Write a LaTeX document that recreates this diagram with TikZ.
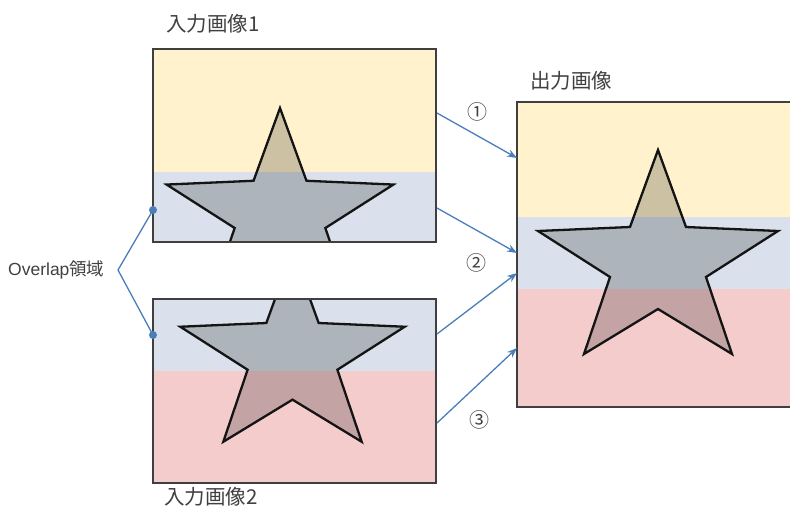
\documentclass[tikz,border=0pt]{standalone}
\usepackage{fontspec}
\setmainfont{Liberation Sans}
\newfontfamily\jp{Noto Sans CJK JP}
\usetikzlibrary{arrows.meta}
\definecolor{bandyellow}{HTML}{FFF2CC}
\definecolor{bandblue}{HTML}{DAE1EC}
\definecolor{bandpink}{HTML}{F4CCCC}
\definecolor{framegray}{HTML}{3F3F3F}
\definecolor{linkblue}{HTML}{4A7EBB}
\definecolor{textgray}{HTML}{404040}
\tikzset{
  frame/.style={draw=framegray, line width=2.7pt},
  starline/.style={draw=black!92, line width=2.3pt, fill=black, fill opacity=0.2, draw opacity=1},
  starpic/.pic={
    \path[starline] (0,0) -- (28,77) -- (120,81) -- (48,127) -- (74,204) -- (0,159)
      -- (-74,204) -- (-48,127) -- (-120,81) -- (-28,77) -- cycle;
  },
  link/.style={-{Stealth[length=10pt,width=7.5pt]}, linkblue, line width=1.3pt},
  title/.style={text=textgray, inner sep=0pt, anchor=west, font=\jp\fontsize{20.5}{24}\selectfont},
  num/.style={text=textgray, inner sep=0pt, font=\jp\fontsize{20}{22}\selectfont},
}
\begin{document}
\begin{tikzpicture}[x=1pt, y=-1pt]
\useasboundingbox (0,0) rectangle (790,507);
% input image 1
\fill[bandyellow] (153,49) rectangle (436,172);
\fill[bandblue] (153,172) rectangle (436,242);
\begin{scope}
  \clip (153,49) rectangle (436,242);
  \pic[scale=0.945] at (280,108) {starpic};
\end{scope}
\draw[frame] (153,49) rectangle (436,242);
% input image 2
\fill[bandblue] (153,299) rectangle (436,371);
\fill[bandpink] (153,371) rectangle (436,483);
\begin{scope}
  \clip (153,299) rectangle (436,483);
  \pic[scale=0.935] at (292.5,251) {starpic};
\end{scope}
\draw[frame] (153,299) rectangle (436,483);
% output image
\fill[bandyellow] (517,102) rectangle (800,217);
\fill[bandblue] (517,217) rectangle (800,289);
\fill[bandpink] (517,289) rectangle (800,407);
\pic at (658,150) {starpic};
\draw[frame] (517,102) rectangle (800,407);
% labels
\node[title] (in1) at (166,24) {入力画像1};
\node[title] (in2) at (164,497) {入力画像2};
\node[title] (out) at (530,81) {出力画像};
\node[text=textgray, inner sep=0pt, anchor=west, font=\fontsize{17.5}{20}\selectfont] (ovl) at (8,270) {Overlap{\jp 領域}};
% overlap marks
\coordinate (d1) at (153,210);
\coordinate (d2) at (153,335);
\coordinate (apex) at (118,270);
\draw[linkblue, line width=1.3pt] (d1) -- (apex) -- (d2);
\fill[linkblue] (d1) circle (4pt) (d2) circle (4pt);
% arrows
\coordinate (s1) at (437,113);
\coordinate (s2) at (437,208);
\coordinate (s3) at (437,334);
\coordinate (s4) at (437,423);
\coordinate (e1) at (517,158);
\coordinate (e2) at (517,253);
\coordinate (e3) at (517,273);
\coordinate (e4) at (517,348);
\draw[link] (s1) -- (e1);
\draw[link] (s2) -- (e2);
\draw[link] (s3) -- (e3);
\draw[link] (s4) -- (e4);
\node[num] (n1) at (477,112) {①};
\node[num] (n2) at (476,263) {②};
\node[num] (n3) at (479,420) {③};
\end{tikzpicture}
\end{document}
